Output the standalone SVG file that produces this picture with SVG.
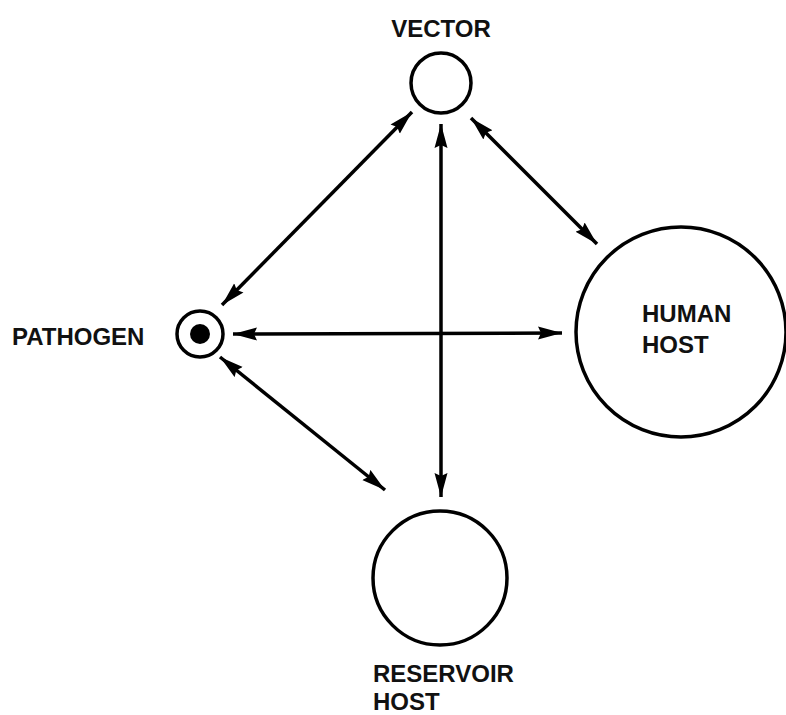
<svg xmlns="http://www.w3.org/2000/svg" width="786" height="715" viewBox="0 0 786 715">
<style>
.node{fill:none;stroke:#000;stroke-width:3.5}
.lbl{font-family:"Liberation Sans",Arial,sans-serif;font-weight:bold;font-size:24px;fill:#111}
.conn{stroke:#000;stroke-width:3.5;fill:none;marker-start:url(#ah);marker-end:url(#ah)}
</style>
<defs>
<marker id="ah" markerUnits="userSpaceOnUse" markerWidth="26" markerHeight="14" refX="24" refY="6.5" orient="auto-start-reverse" viewBox="0 0 26 13">
<path d="M0,0 L24,6.5 L0,13 L3,6.5 z" fill="#000"/>
</marker>
</defs>
<rect width="786" height="715" fill="#fff"/>
<g id="connectors">
<line class="conn" x1="412" y1="112" x2="222" y2="305"/>
<line class="conn" x1="471" y1="118" x2="597" y2="244"/>
<line class="conn" x1="441" y1="124" x2="441" y2="497"/>
<line class="conn" x1="233" y1="334" x2="562" y2="333"/>
<line class="conn" x1="220" y1="357" x2="385" y2="490"/>
</g>
<g id="vector">
<circle class="node" cx="441" cy="83" r="30"/>
<text class="lbl" x="441" y="37" text-anchor="middle">VECTOR</text>
</g>
<g id="pathogen">
<circle class="node" cx="200" cy="334" r="23"/>
<circle cx="200" cy="334" r="10" fill="#000"/>
<text class="lbl" x="12" y="345">PATHOGEN</text>
</g>
<g id="human-host">
<circle class="node" cx="681" cy="332" r="105"/>
<text class="lbl" x="642" y="322">HUMAN</text>
<text class="lbl" x="642" y="353">HOST</text>
</g>
<g id="reservoir-host">
<circle class="node" cx="440" cy="578" r="67"/>
<text class="lbl" x="373" y="682">RESERVOIR</text>
<text class="lbl" x="373" y="710">HOST</text>
</g>
</svg>
